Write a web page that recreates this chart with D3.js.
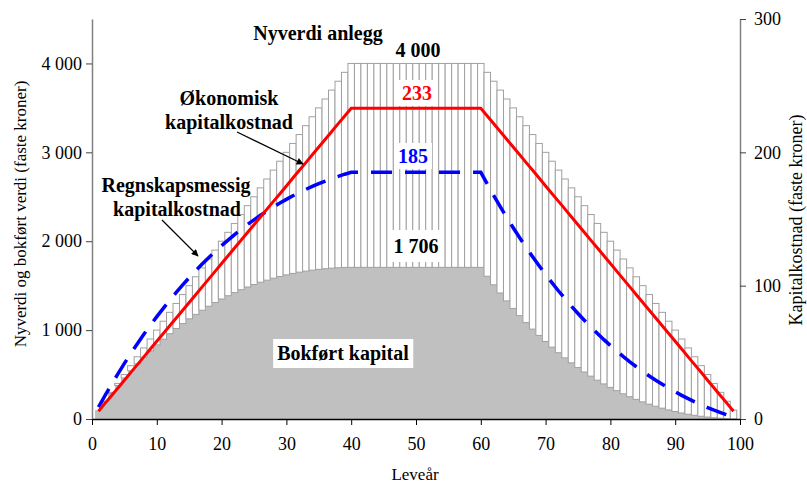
<!DOCTYPE html>
<html>
<head>
<meta charset="utf-8">
<script src="https://cdn.jsdelivr.net/npm/d3@7"></script>
<style>
  html, body { margin: 0; padding: 0; background: #fff; }
  svg { display: block; font-family: 'Liberation Serif', 'Times New Roman', serif; }
</style>
</head>
<body>
<svg id="chart" width="807" height="484"></svg>
<script>
;(function () {
  // leveår 1..99
  var years = d3.range(1, 100)

  // nyverdi anlegg (faste kroner)
  var newValue = [
    100, 200, 300, 400, 500, 600, 700, 800, 900, 1000,
    1100, 1200, 1300, 1400, 1500, 1600, 1700, 1800, 1900, 2000,
    2100, 2200, 2300, 2400, 2500, 2600, 2700, 2800, 2900, 3000,
    3100, 3200, 3300, 3400, 3500, 3600, 3700, 3800, 3900, 4000,
    4000, 4000, 4000, 4000, 4000, 4000, 4000, 4000, 4000, 4000,
    4000, 4000, 4000, 4000, 4000, 4000, 4000, 4000, 4000, 4000,
    3900, 3800, 3700, 3600, 3500, 3400, 3300, 3200, 3100, 3000,
    2900, 2800, 2700, 2600, 2500, 2400, 2300, 2200, 2100, 2000,
    1900, 1800, 1700, 1600, 1500, 1400, 1300, 1200, 1100, 1000,
    900, 800, 700, 600, 500, 400, 300, 200, 100,
  ]

  // bokført kapital
  var bookValue = [
    100, 196, 288, 377, 462, 543, 620, 695, 766, 834,
    898, 960, 1018, 1074, 1127, 1177, 1224, 1269, 1311, 1350,
    1387, 1422, 1455, 1485, 1513, 1539, 1562, 1584, 1604, 1622,
    1638, 1652, 1664, 1675, 1684, 1691, 1697, 1702, 1705, 1706,
    1706, 1706, 1706, 1706, 1706, 1706, 1706, 1706, 1706, 1706,
    1706, 1706, 1706, 1706, 1706, 1706, 1706, 1706, 1706, 1706,
    1606, 1510, 1418, 1329, 1244, 1163, 1085, 1011, 940, 872,
    808, 746, 688, 632, 579, 529, 482, 437, 395, 356,
    319, 284, 251, 221, 193, 167, 144, 122, 102, 84,
    68, 54, 42, 31, 22, 14, 9, 4, 1,
  ]

  // økonomisk kapitalkostnad (høyre akse)
  var econCost = [
    5.8, 11.7, 17.5, 23.3, 29.1, 35.0, 40.8, 46.6, 52.5, 58.3,
    64.1, 69.9, 75.8, 81.6, 87.4, 93.2, 99.1, 104.9, 110.7, 116.6,
    122.4, 128.2, 134.0, 139.9, 145.7, 151.5, 157.4, 163.2, 169.0, 174.8,
    180.7, 186.5, 192.3, 198.2, 204.0, 209.8, 215.6, 221.5, 227.3, 233.1,
    233.1, 233.1, 233.1, 233.1, 233.1, 233.1, 233.1, 233.1, 233.1, 233.1,
    233.1, 233.1, 233.1, 233.1, 233.1, 233.1, 233.1, 233.1, 233.1, 233.1,
    227.3, 221.5, 215.6, 209.8, 204.0, 198.2, 192.3, 186.5, 180.7, 174.8,
    169.0, 163.2, 157.4, 151.5, 145.7, 139.9, 134.0, 128.2, 122.4, 116.6,
    110.7, 104.9, 99.1, 93.2, 87.4, 81.6, 75.8, 69.9, 64.1, 58.3,
    52.5, 46.6, 40.8, 35.0, 29.1, 23.3, 17.5, 11.7, 5.8,
  ]

  // regnskapsmessig kapitalkostnad (høyre akse)
  var accCost = [
    8.9, 17.5, 25.8, 33.9, 41.7, 49.2, 56.5, 63.5, 70.2, 76.8,
    83.0, 89.1, 94.9, 100.6, 106.0, 111.2, 116.2, 121.0, 125.6, 130.0,
    134.2, 138.3, 142.1, 145.9, 149.4, 152.8, 156.0, 159.1, 162.0, 164.7,
    167.4, 169.8, 172.2, 174.4, 176.5, 178.4, 180.3, 182.0, 183.6, 185.0,
    185, 185, 185, 185, 185, 185, 185, 185, 185, 185,
    185, 185, 185, 185, 185, 185, 185, 185, 185, 185,
    176.2, 167.6, 159.3, 151.2, 143.4, 135.9, 128.6, 121.6, 114.9, 108.3,
    102.1, 96.0, 90.2, 84.5, 79.1, 73.9, 68.9, 64.1, 59.5, 55.1,
    50.9, 46.8, 42.9, 39.2, 35.7, 32.3, 29.1, 26.1, 23.1, 20.4,
    17.7, 15.3, 12.9, 10.7, 8.6, 6.6, 4.8, 3.1, 1.5,
  ]

  var leftTicks = [0, 1000, 2000, 3000, 4000]
  var rightTicks = [0, 100, 200, 300]
  var xTicks = [0, 10, 20, 30, 40, 50, 60, 70, 80, 90, 100]

  var svg = d3.select('#chart')
  var fontStack = "'Liberation Serif', 'Times New Roman', serif"

  var x = d3.scaleLinear().domain([0, 100]).range([92, 740]),
    yL = d3.scaleLinear().domain([0, 4500]).range([419, 19]),
    yR = d3.scaleLinear().domain([0, 300]).range([419, 19])

  var rows = years.map(function (yr, i) {
    return {
      year: yr,
      nv: newValue[i],
      book: bookValue[i],
      econ: econCost[i],
      acc: accCost[i],
    }
  })

  var bw = x(1) - x(0)

  // grå: bokført kapital
  svg
    .append('g')
    .attr('shape-rendering', 'crispEdges')
    .selectAll('rect')
    .data(rows)
    .enter()
    .append('rect')
    .attr('x', function (d) {
      return x(d.year) - bw / 2
    })
    .attr('y', function (d) {
      return yL(d.book)
    })
    .attr('width', bw + 1)
    .attr('height', function (d) {
      return yL(0) - yL(d.book)
    })
    .attr('fill', '#c0c0c0')

  // hvit med grå kant: resten av nyverdi
  svg
    .append('g')
    .selectAll('rect')
    .data(rows)
    .enter()
    .append('rect')
    .attr('x', function (d) {
      return x(d.year) - bw / 2
    })
    .attr('y', function (d) {
      return yL(d.nv)
    })
    .attr('width', bw)
    .attr('height', function (d) {
      return Math.max(0, yL(d.book) - yL(d.nv))
    })
    .attr('fill', '#fff')
    .attr('stroke', '#a0a0a0')
    .attr('stroke-width', 1)

  // akser
  var fmt = function (d) {
    return d3.format(',')(d).replace(/,/g, ' ')
  }

  var gLeft = svg
    .append('g')
    .attr('transform', 'translate(' + x(0) + ',0)')
    .call(
      d3
        .axisLeft(yL)
        .tickValues(leftTicks)
        .tickSize(6)
        .tickSizeOuter(0)
        .tickPadding(4)
        .tickFormat(fmt)
    )
  gLeft.select('.domain').attr('stroke', '#808080').attr('stroke-width', 1.5)
  gLeft.selectAll('.tick line').attr('stroke', '#404040')
  gLeft
    .selectAll('.tick text')
    .attr('font-family', fontStack)
    .attr('font-size', 18)
    .attr('fill', '#000')

  var gRight = svg
    .append('g')
    .attr('transform', 'translate(' + x(100) + ',0)')
    .call(
      d3
        .axisRight(yR)
        .tickValues(rightTicks)
        .tickSize(6)
        .tickSizeOuter(0)
        .tickPadding(8)
    )
  gRight.select('.domain').attr('stroke', '#808080').attr('stroke-width', 1.5)
  gRight.selectAll('.tick line').attr('stroke', '#404040')
  gRight
    .selectAll('.tick text')
    .attr('font-family', fontStack)
    .attr('font-size', 18)
    .attr('fill', '#000')

  var gBottom = svg
    .append('g')
    .attr('transform', 'translate(0,' + yL(0) + ')')
    .call(
      d3
        .axisBottom(x)
        .tickValues(xTicks)
        .tickSize(6)
        .tickSizeOuter(0)
        .tickPadding(12)
    )
  gBottom.select('.domain').attr('stroke', '#000').attr('stroke-width', 1.5)
  gBottom.selectAll('.tick line').attr('stroke', '#000')
  gBottom
    .selectAll('.tick text')
    .attr('font-family', fontStack)
    .attr('font-size', 18)
    .attr('fill', '#000')

  // linjer
  var lineOf = function (key) {
    return d3
      .line()
      .x(function (d) {
        return x(d.year)
      })
      .y(function (d) {
        return yR(d[key])
      })
  }

  svg
    .append('path')
    .datum(rows)
    .attr('d', lineOf('acc'))
    .attr('fill', 'none')
    .attr('stroke', '#0000ff')
    .attr('stroke-width', 3.5)
    .attr('stroke-dasharray', '21,13')

  svg
    .append('path')
    .datum(rows)
    .attr('d', lineOf('econ'))
    .attr('fill', 'none')
    .attr('stroke', '#ff0000')
    .attr('stroke-width', 3)
    .attr('stroke-linejoin', 'miter')

  // aksetitler
  svg
    .append('text')
    .attr('transform', 'translate(20,214) rotate(-90)')
    .attr('dy', '0.35em')
    .attr('text-anchor', 'middle')
    .attr('font-size', 17)
    .text('Nyverdi og bokført verdi (faste kroner)')

  svg
    .append('text')
    .attr('transform', 'translate(796,220) rotate(-90)')
    .attr('dy', '0.35em')
    .attr('text-anchor', 'middle')
    .attr('font-size', 18)
    .text('Kapitalkostnad (faste kroner)')

  svg
    .append('text')
    .attr('x', 415)
    .attr('y', 480)
    .attr('text-anchor', 'middle')
    .attr('font-size', 17)
    .text('Leveår')

  // etiketter
  var labels = [
    { t: 'Nyverdi anlegg', x: 318, y: 40, c: '#000', box: false },
    { t: '4 000', x: 418, y: 57, c: '#000', box: true },
    { t: '233', x: 417, y: 100, c: '#ff0000', box: true },
    { t: '185', x: 413, y: 163, c: '#0000ff', box: true },
    { t: '1 706', x: 416, y: 253, c: '#000', box: true, pad: 7 },
    { t: 'Bokført kapital', x: 343, y: 360, c: '#000', box: true, pad: 5 },
    { t: 'Økonomisk', x: 229, y: 105, c: '#000', box: false },
    { t: 'kapitalkostnad', x: 229, y: 129, c: '#000', box: false },
    { t: 'Regnskapsmessig', x: 176, y: 192, c: '#000', box: false },
    { t: 'kapitalkostnad', x: 177, y: 216, c: '#000', box: false },
  ]

  var gLab = svg.append('g')
  labels.forEach(function (l) {
    var g = gLab.append('g')
    var txt = g
      .append('text')
      .attr('x', l.x)
      .attr('y', l.y)
      .attr('text-anchor', 'middle')
      .attr('font-size', 20)
      .attr('font-weight', 'bold')
      .attr('fill', l.c)
      .text(l.t)
    if (l.box) {
      var bb = txt.node().getBBox(),
        p = l.pad || 4
      g.insert('rect', 'text')
        .attr('x', bb.x - 4)
        .attr('y', bb.y - p + 2)
        .attr('width', bb.width + 8)
        .attr('height', bb.height + 2 * p - 4)
        .attr('fill', '#fff')
    }
  })

  // piler
  svg
    .append('defs')
    .append('marker')
    .attr('id', 'arrow')
    .attr('viewBox', '0 0 10 10')
    .attr('refX', 9)
    .attr('refY', 5)
    .attr('markerWidth', 9)
    .attr('markerHeight', 7)
    .attr('markerUnits', 'userSpaceOnUse')
    .attr('orient', 'auto')
    .append('path')
    .attr('d', 'M0,0L10,5L0,10z')
    .attr('fill', '#000')

  var arrows = [
    [237, 132, 303, 164],
    [162, 220, 198, 256],
  ]
  svg
    .append('g')
    .selectAll('line')
    .data(arrows)
    .enter()
    .append('line')
    .attr('x1', function (d) {
      return d[0]
    })
    .attr('y1', function (d) {
      return d[1]
    })
    .attr('x2', function (d) {
      return d[2]
    })
    .attr('y2', function (d) {
      return d[3]
    })
    .attr('stroke', '#000')
    .attr('stroke-width', 1.2)
    .attr('marker-end', 'url(#arrow)')
})()
</script>
</body>
</html>
